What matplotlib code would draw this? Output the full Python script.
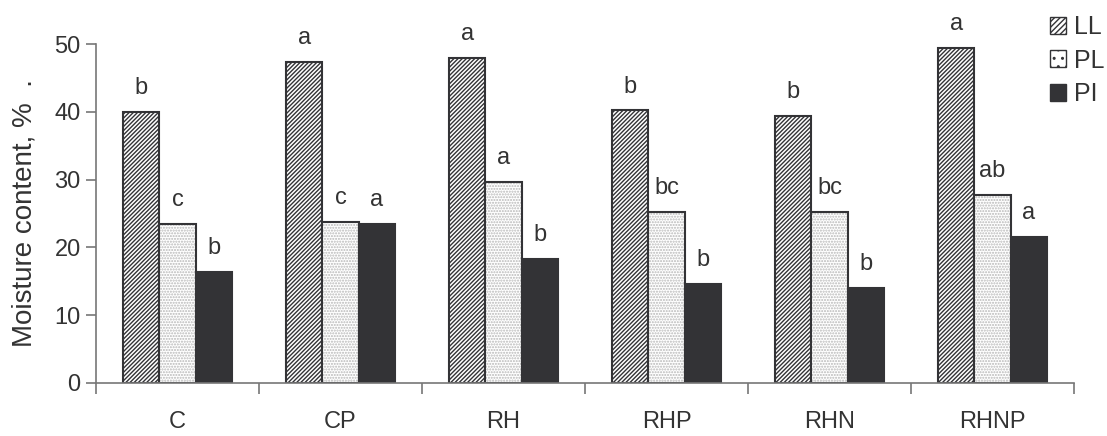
import numpy as np
import matplotlib.pyplot as plt
from matplotlib.patches import Patch

plt.rcParams['font.family'] = ['Liberation Sans', 'DejaVu Sans']
plt.rcParams['hatch.linewidth'] = 1.0

categories = ['C', 'CP', 'RH', 'RHP', 'RHN', 'RHNP']
ll = [40.0, 47.4, 48.0, 40.2, 39.4, 49.4]
pl = [23.5, 23.8, 29.6, 25.2, 25.2, 27.8]
pi = [16.4, 23.5, 18.3, 14.6, 14.0, 21.5]
ll_letters = ['b', 'a', 'a', 'b', 'b', 'a']
pl_letters = ['c', 'c', 'a', 'bc', 'bc', 'ab']
pi_letters = ['b', 'a', 'b', 'b', 'b', 'a']

dark = '#333336'
txt = '#333333'
axis_c = '#777777'

fig = plt.figure(figsize=(11.07, 4.36), dpi=100)
ax = fig.add_axes([0.0867, 0.1216, 0.8835, 0.7774])

x = np.arange(len(categories))
w = 0.222

# LL - hatched
ax.bar(x - w, ll, w, color='white', edgecolor=dark, hatch='////////', linewidth=1.5)
# PL - light dotted fill, dark outline drawn on top
ax.bar(x, pl, w, color='white', edgecolor='#b8b8b8', hatch='......', linewidth=0)
ax.bar(x, pl, w, fill=False, edgecolor=dark, linewidth=1.5)
# PI - solid dark
ax.bar(x + w, pi, w, color=dark, edgecolor=dark, linewidth=1.5)

fs = 17
for xs, vals, labs in [(x - w, ll, ll_letters), (x, pl, pl_letters), (x + w, pi, pi_letters)]:
    for xi, v, lab in zip(xs, vals, labs):
        ax.text(xi, v + 2.65, lab, ha='center', va='baseline', fontsize=fs, color=txt, clip_on=False)

ax.set_xlim(-0.5, len(categories) - 0.5)
ax.set_ylim(0, 50)
ax.set_yticks([0, 10, 20, 30, 40, 50])
ax.tick_params(axis='y', length=7, width=1.2, color=axis_c, labelsize=fs, labelcolor=txt, pad=4)
ax.set_xticks(x)
ax.set_xticklabels(categories)
ax.tick_params(axis='x', which='major', length=0, labelsize=fs, labelcolor=txt, pad=20)
ax.set_xticks(np.arange(-0.5, len(categories), 1.0), minor=True)
ax.tick_params(axis='x', which='minor', length=8, width=1.2, color=axis_c)

for s in ['top', 'right']:
    ax.spines[s].set_visible(False)
for s in ['left', 'bottom']:
    ax.spines[s].set_color(axis_c)
    ax.spines[s].set_linewidth(1.2)

ax.set_ylabel('Moisture content, %  .', fontsize=20, color=txt, labelpad=12)

handles = [
    Patch(facecolor='white', edgecolor=dark, hatch='//////', label='LL'),
    Patch(facecolor='white', edgecolor=dark, hatch='..', label='PL'),
    Patch(facecolor=dark, edgecolor=dark, label='PI'),
]
fig.legend(handles=handles, loc='upper left', bbox_to_anchor=(1040 / 1107, 1 - 5 / 436),
           frameon=False, fontsize=18, handlelength=0.65, handleheight=0.65,
           handletextpad=0.3, labelspacing=0.38, borderaxespad=0, labelcolor=txt)

fig.savefig('out.png', dpi=100)
